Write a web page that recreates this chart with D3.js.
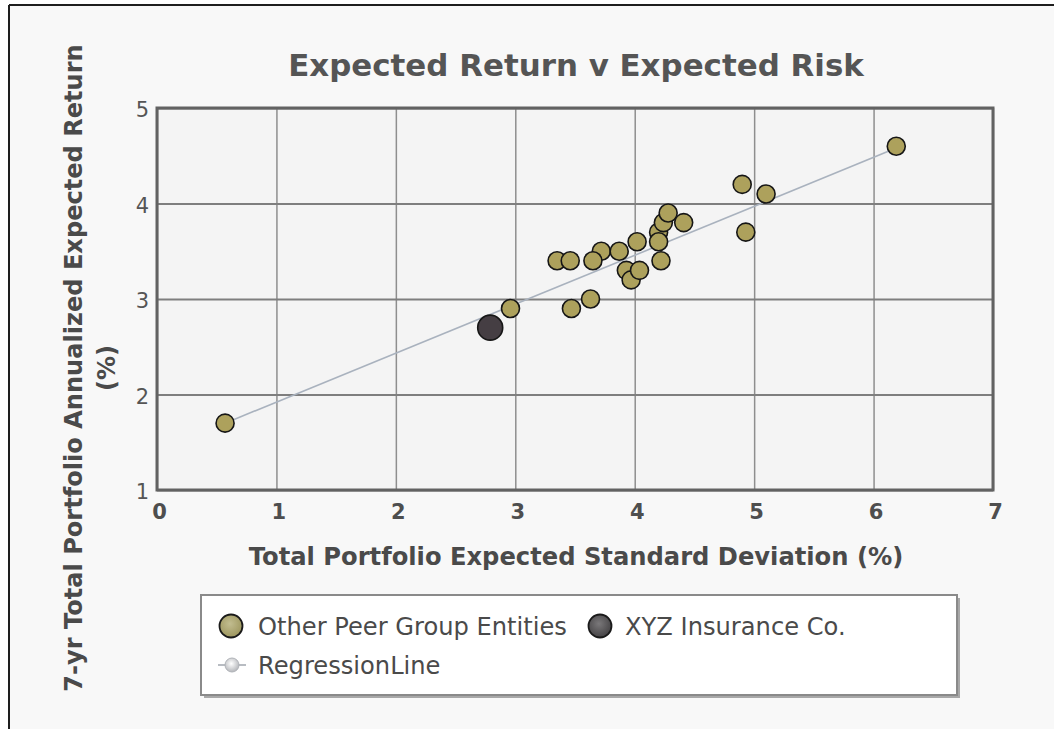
<!DOCTYPE html>
<html>
<head>
<meta charset="utf-8">
<script src="https://cdn.jsdelivr.net/npm/d3@7"></script>
<style>
  html, body { margin: 0; padding: 0; background: #ffffff; }
  svg { display: block; }
</style>
</head>
<body>
<svg id="chart" width="1054" height="729"></svg>
<script>
// ---- data ----
const chartTitle = "Expected Return v Expected Risk";
const xAxisTitle = "Total Portfolio Expected Standard Deviation (%)";
const yAxisTitleLines = ["7-yr Total Portfolio Annualized Expected Return", "(%)"];
const xTicks = [0, 1, 2, 3, 4, 5, 6, 7];
const yTicks = [1, 2, 3, 4, 5];

const peerX = [0.57, 2.96, 3.35, 3.46, 3.47, 3.63, 3.72, 3.65, 3.87, 3.93, 3.97, 4.04, 4.02,
               4.22, 4.20, 4.20, 4.24, 4.28, 4.41, 4.90, 4.93, 5.10, 6.19];
const peerY = [1.70, 2.90, 3.40, 3.40, 2.90, 3.00, 3.50, 3.40, 3.50, 3.30, 3.20, 3.30, 3.60,
               3.40, 3.70, 3.60, 3.80, 3.90, 3.80, 4.20, 3.70, 4.10, 4.60];
const xyzX = [2.79];
const xyzY = [2.70];
const regX = [0.57, 6.19];
const regY = [1.70, 4.58];

const legendItems = ["Other Peer Group Entities", "XYZ Insurance Co.", "RegressionLine"];

// ---- layout ----
const svg = d3.select("#chart");
const W = 1054, H = 729;
const plot = { left: 157, right: 993, top: 108, bottom: 490 };
const x = d3.scaleLinear().domain([0, 7]).range([plot.left, plot.right]);
const y = d3.scaleLinear().domain([1, 5]).range([plot.bottom, plot.top]);

const defs = svg.append("defs");
function radial(id, c0, c1) {
  const g = defs.append("radialGradient").attr("id", id).attr("cx", "45%").attr("cy", "40%").attr("r", "60%");
  g.append("stop").attr("offset", "0%").attr("stop-color", c0);
  g.append("stop").attr("offset", "100%").attr("stop-color", c1);
}
radial("gOlive", "#c2bd90", "#9d965e");
radial("gDark", "#7a787a", "#454345");
radial("gReg", "#ffffff", "#b4b6ba");

// page background and frame
svg.append("rect").attr("x", 9).attr("y", 5).attr("width", W).attr("height", H).attr("fill", "#f8f8f8");
svg.append("line").attr("x1", 9).attr("x2", W).attr("y1", 5).attr("y2", 5).attr("stroke", "#1e1e1e").attr("stroke-width", 2);
svg.append("line").attr("x1", 9).attr("x2", 9).attr("y1", 5).attr("y2", H).attr("stroke", "#1e1e1e").attr("stroke-width", 2);

// plot background
svg.append("rect")
  .attr("x", plot.left).attr("y", plot.top)
  .attr("width", plot.right - plot.left).attr("height", plot.bottom - plot.top)
  .attr("fill", "#f4f4f4");

// grid via axes
const gridX = svg.append("g")
  .attr("transform", `translate(0,${plot.bottom})`)
  .call(d3.axisBottom(x).tickValues(xTicks).tickSize(-(plot.bottom - plot.top)).tickFormat(""));
gridX.select(".domain").remove();
gridX.selectAll("line").attr("stroke", "#8e8e8e").attr("stroke-width", 1.5);

const gridY = svg.append("g")
  .attr("transform", `translate(${plot.left},0)`)
  .call(d3.axisLeft(y).tickValues(yTicks).tickSize(-(plot.right - plot.left)).tickFormat(""));
gridY.select(".domain").remove();
gridY.selectAll("line").attr("stroke", "#7e7e7e").attr("stroke-width", 1.8);

// plot border
svg.append("rect")
  .attr("x", plot.left).attr("y", plot.top)
  .attr("width", plot.right - plot.left).attr("height", plot.bottom - plot.top)
  .attr("fill", "none").attr("stroke", "#626262").attr("stroke-width", 3);

// tick labels via axes
const xAxis = svg.append("g")
  .attr("transform", `translate(0,${plot.bottom})`)
  .call(d3.axisBottom(x).tickValues(xTicks).tickSize(0).tickPadding(14).tickFormat(d3.format("d")));
xAxis.select(".domain").remove();
xAxis.selectAll("text")
  .attr("font-family", "DejaVu Sans").attr("font-weight", "bold").attr("font-size", 21)
  .attr("fill", "#4e4e4e").attr("dx", 2);

const yAxis = svg.append("g")
  .attr("transform", `translate(${plot.left},0)`)
  .call(d3.axisLeft(y).tickValues(yTicks).tickSize(0).tickPadding(8).tickFormat(d3.format("d")));
yAxis.select(".domain").remove();
yAxis.selectAll("text")
  .attr("font-family", "DejaVu Sans").attr("font-size", 21)
  .attr("fill", "#555555").attr("dy", "0.42em");

// helper to fit font size to a measured width
function fit(sel, target) {
  const fs = parseFloat(sel.attr("font-size"));
  const w = sel.node().getComputedTextLength();
  const nfs = fs * target / w;
  sel.attr("font-size", nfs);
  return nfs;
}

// title
const title = svg.append("text")
  .attr("x", 576).attr("y", 76).attr("text-anchor", "middle")
  .attr("font-family", "DejaVu Sans").attr("font-weight", "bold").attr("font-size", 30)
  .attr("fill", "#555555").text(chartTitle);
fit(title, 576);

// x axis title
const xt = svg.append("text")
  .attr("x", 576).attr("y", 565).attr("text-anchor", "middle")
  .attr("font-family", "DejaVu Sans").attr("font-weight", "bold").attr("font-size", 22)
  .attr("fill", "#4a4a4a").text(xAxisTitle);
fit(xt, 655);

// y axis title
const yt1 = svg.append("text")
  .attr("transform", "translate(74,368) rotate(-90)").attr("text-anchor", "middle")
  .attr("dominant-baseline", "central")
  .attr("font-family", "DejaVu Sans").attr("font-weight", "bold").attr("font-size", 22)
  .attr("fill", "#4a4a4a").text(yAxisTitleLines[0]);
const yfs = fit(yt1, 648);
svg.append("text")
  .attr("transform", "translate(107,368) rotate(-90)").attr("text-anchor", "middle")
  .attr("dominant-baseline", "central")
  .attr("font-family", "DejaVu Sans").attr("font-weight", "bold").attr("font-size", yfs)
  .attr("fill", "#4a4a4a").text(yAxisTitleLines[1]);

// regression line
const regData = regX.map((v, i) => [v, regY[i]]);
svg.append("path")
  .datum(regData)
  .attr("d", d3.line().x(d => x(d[0])).y(d => y(d[1])))
  .attr("fill", "none").attr("stroke", "#a9b2be").attr("stroke-width", 1.6);

// peer points
const peer = peerX.map((v, i) => [v, peerY[i]]);
svg.append("g").selectAll("circle").data(peer).join("circle")
  .attr("cx", d => x(d[0])).attr("cy", d => y(d[1])).attr("r", 9)
  .attr("fill", "#ada15c").attr("stroke", "#161616").attr("stroke-width", 1.6);

// XYZ point
const xyz = xyzX.map((v, i) => [v, xyzY[i]]);
svg.append("g").selectAll("circle").data(xyz).join("circle")
  .attr("cx", d => x(d[0])).attr("cy", d => y(d[1])).attr("r", 12.5)
  .attr("fill", "#453e43").attr("stroke", "#161616").attr("stroke-width", 1.6);

// legend
const lg = svg.append("g");
lg.append("rect").attr("x", 204).attr("y", 598).attr("width", 756).attr("height", 100)
  .attr("fill", "#a8a8a8");
lg.append("rect").attr("x", 201).attr("y", 595).attr("width", 756).attr("height", 100)
  .attr("fill", "#ffffff").attr("stroke", "#8a8a8a").attr("stroke-width", 2);

lg.append("circle").attr("cx", 231).attr("cy", 626).attr("r", 11.5)
  .attr("fill", "url(#gOlive)").attr("stroke", "#1a1a1a").attr("stroke-width", 1.8);
const l1 = lg.append("text").attr("x", 258).attr("y", 635)
  .attr("font-family", "DejaVu Sans").attr("font-size", 22).attr("fill", "#4a4a4a")
  .text(legendItems[0]);
const lfs = fit(l1, 309);

lg.append("circle").attr("cx", 600).attr("cy", 626).attr("r", 11.5)
  .attr("fill", "url(#gDark)").attr("stroke", "#1a1a1a").attr("stroke-width", 1.8);
lg.append("text").attr("x", 625).attr("y", 635)
  .attr("font-family", "DejaVu Sans").attr("font-size", lfs).attr("fill", "#4a4a4a")
  .text(legendItems[1]);

lg.append("line").attr("x1", 218).attr("x2", 246).attr("y1", 665).attr("y2", 665)
  .attr("stroke", "#b8bcc2").attr("stroke-width", 2);
lg.append("circle").attr("cx", 232).attr("cy", 665).attr("r", 7)
  .attr("fill", "url(#gReg)").attr("stroke", "#b0b3b8").attr("stroke-width", 1);
lg.append("text").attr("x", 258).attr("y", 674)
  .attr("font-family", "DejaVu Sans").attr("font-size", lfs).attr("fill", "#4a4a4a")
  .text(legendItems[2]);
</script>
</body>
</html>
